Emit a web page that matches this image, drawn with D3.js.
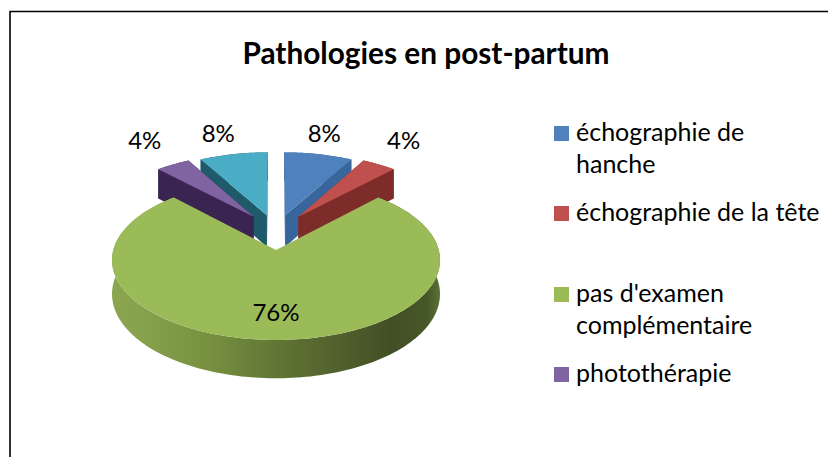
<!DOCTYPE html>
<html><head><meta charset="utf-8">
<script src="https://cdn.jsdelivr.net/npm/d3@7"></script>
<style>html,body{margin:0;padding:0;background:#fff;overflow:hidden}svg{display:block}text{font-family:Lato,Carlito,sans-serif;fill:#000}</style>
</head><body><svg id="c" width="828" height="457"></svg>
<script>
const titleText = "Pathologies en post-partum";
const categories = ["échographie de hanche","échographie de la tête","pas d'examen complémentaire","photothérapie","Autre"];
const values = [8,4,76,4,8];
const labels = ["8%","4%","76%","4%","8%"];
const legendLines = [["échographie de","hanche"],["échographie de la tête"],["pas d'examen","complémentaire"],["photothérapie"]];
const topColors = ["#4f81bd","#c0504d","#9bbb59","#8064a2","#4bacc6"];
const sideColors = ["#38659b","#7e2c2a","#5f7535","#3a2552","#1e5a6a"];
const explode = [0.47,0.47,0,0.47,0.47];
const labelRadius = [1.39,1.47,0.72,1.486,1.406];
const labelTurn = [0.88,0.92,1,0.944,1.08];

const svg = d3.select("#c");
const cx=276, cy=250, bx=162.7, ay=78.75, k=0.125, depth=33.5;
const sx = d3.scaleLinear().domain([-1,1]).range([cx-bx,cx+bx]);
const sy = d3.scaleLinear().domain([-1,1]).range([cy+ay,cy-ay]);
const proj = (u,v,z=0)=>{const w=1+k*v;return [sx(u/w),sy(v/w)+z*depth/w];};
const pieGen = d3.pie().sort(null).value(d=>d);
const arcs = pieGen(values);

const defs = svg.append("defs");
const g = defs.append("linearGradient").attr("id","gs").attr("gradientUnits","userSpaceOnUse")
  .attr("x1",cx-bx-1).attr("x2",cx+bx+1).attr("y1",0).attr("y2",0);
[[0,"#8ba64f"],[0.1,"#86a14c"],[0.3,"#76903f"],[0.5,"#617635"],[0.7,"#505f2c"],[0.85,"#414f25"],[0.96,"#465727"],[1,"#5a7033"]]
 .forEach(s=>g.append("stop").attr("offset",s[0]).attr("stop-color",s[1]));

// frame
svg.append("path").attr("d",d3.line()([[10,457],[10,11.5],[828,11.5]])).attr("fill","none").attr("stroke","#000").attr("stroke-width",1.6);

const line = d3.line();
function rim(a,off,z){const n=Math.max(8,Math.round((a.endAngle-a.startAngle)*40));const p=[];
  for(let i=0;i<=n;i++){const t=a.startAngle+(a.endAngle-a.startAngle)*i/n;p.push(proj(off[0]+Math.sin(t),off[1]+Math.cos(t),z));}return p;}
const order=[4,0,3,1];
const signedMid = a=>{let m=(a.startAngle+a.endAngle)/2; return m>Math.PI+1e-6? m-2*Math.PI : m;};
const offs = arcs.map((a,i)=>{const m=signedMid(a)/2; return [explode[i]*Math.sin(m),explode[i]*Math.cos(m)];});

// exploded slices
order.forEach(i=>{const a=arcs[i],o=offs[i];
  const t=rim(a,o,0),b=rim(a,o,1),ap0=proj(o[0],o[1],0),ap1=proj(o[0],o[1],1);
  const f=svg.append("g");
  f.append("path").attr("d",line([...t,...b.slice().reverse()])+"Z").attr("fill",sideColors[i]);
  f.append("path").attr("d",line([ap0,t[0],b[0],ap1])+"Z").attr("fill",sideColors[i]);
  f.append("path").attr("d",line([ap0,t[t.length-1],b[b.length-1],ap1])+"Z").attr("fill",sideColors[i]);
  f.append("path").attr("d",line([ap0,...t])+"Z").attr("fill",topColors[i]);
});

// main slice
{const a=arcs[2],o=[0,0];const t=rim(a,o,0),b=rim(a,o,1),ap=proj(0,0,0);
 svg.append("path").attr("d",line([...t,...b.slice().reverse()])+"Z").attr("fill","url(#gs)");
 svg.append("path").attr("d",line([ap,...t])+"Z").attr("fill",topColors[2]);}

// data labels
arcs.forEach((a,i)=>{const m=signedMid(a)*labelTurn[i],o=offs[i],r=labelRadius[i];
  const p=proj(o[0]+r*Math.sin(m),o[1]+r*Math.cos(m),0);
  svg.append("text").attr("x",p[0]).attr("y",p[1]).attr("dy","0.35em").attr("text-anchor","middle").attr("font-size",24).text(labels[i]);});

// title
svg.append("text").attr("x",426).attr("y",64).attr("text-anchor","middle").attr("font-size",29.8).attr("font-weight",700).text(titleText);

// legend
const legY=d3.scaleOrdinal().domain(d3.range(4)).range([141,221,302,382]);
legendLines.forEach((ls,i)=>{
  svg.append("rect").attr("x",554).attr("y",legY(i)-15).attr("width",15).attr("height",15).attr("fill",topColors[i]);
  ls.forEach((s,j)=>svg.append("text").attr("x",576).attr("y",legY(i)+j*32).attr("font-size",25).text(s));
});
</script></body></html>
